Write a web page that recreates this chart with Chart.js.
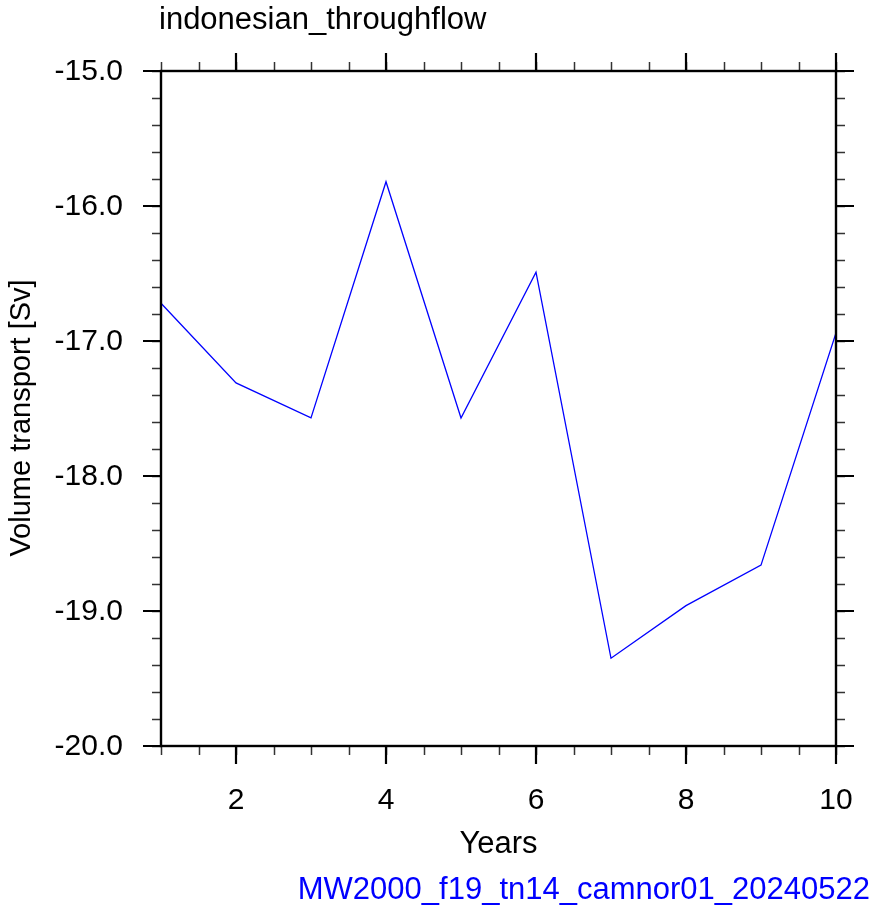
<!DOCTYPE html>
<html lang="en">
<head>
  <meta charset="UTF-8">
  <title>indonesian_throughflow</title>
  <style>
    body {
      margin: 0;
      padding: 0;
      background-color: #fff;
    }
    #wrap {
      width: 875px;
      height: 912px;
    }
  </style>
  <script src="https://cdn.jsdelivr.net/npm/chart.js"></script>
</head>
<body>
  <div id="wrap"><canvas id="itfChart" width="875" height="912"></canvas></div>

  <script>
    // data
    const years = [1, 2, 3, 4, 5, 6, 7, 8, 9, 10];
    const transport = [-16.72, -17.31, -17.57, -15.82, -17.57, -16.49, -19.35, -18.96, -18.66, -16.94];

    // axis ticks
    const xMajorTicks = [2, 4, 6, 8, 10];
    const xMinorStep = 0.5;
    const yMajorTicks = [-20, -19, -18, -17, -16, -15];
    const yMinorStep = 0.2;

    const plotTitle = 'indonesian_throughflow';
    const xTitle = 'Years';
    const yTitle = 'Volume transport [Sv]';
    const caseName = 'MW2000_f19_tn14_camnor01_20240522';

    const FAMILY = '"Liberation Sans", Arial, Helvetica, sans-serif';
    const FONT = '31px ' + FAMILY;
    const TICK_FONT = '30px ' + FAMILY;
    const YTITLE_FONT = '29px ' + FAMILY;

    // NCL style frame: outward ticks on all four sides, labels left & bottom
    const nclFrame = {
      id: 'nclFrame',
      afterDraw(chart) {
        const ctx = chart.ctx;
        const xs = chart.scales.x;
        const ys = chart.scales.y;
        const a = chart.chartArea;
        const minorLen = 9, majorLen = 18;

        ctx.save();
        ctx.lineCap = 'butt';

        // minor ticks
        ctx.strokeStyle = '#333';
        ctx.lineWidth = 1.5;
        ctx.beginPath();
        for (let v = xs.min; v <= xs.max + 1e-9; v += xMinorStep) {
          const px = Math.round(xs.getPixelForValue(v)) + 0.5;
          ctx.moveTo(px, a.bottom); ctx.lineTo(px, a.bottom + minorLen);
          ctx.moveTo(px, a.top); ctx.lineTo(px, a.top - minorLen);
        }
        for (let v = ys.min; v <= ys.max + 1e-9; v += yMinorStep) {
          const py = Math.round(ys.getPixelForValue(v)) + 0.5;
          ctx.moveTo(a.left, py); ctx.lineTo(a.left - minorLen, py);
          ctx.moveTo(a.right, py); ctx.lineTo(a.right + minorLen, py);
        }
        ctx.stroke();

        // major ticks
        ctx.strokeStyle = '#000';
        ctx.lineWidth = 2.2;
        ctx.beginPath();
        xMajorTicks.forEach(v => {
          const px = xs.getPixelForValue(v);
          ctx.moveTo(px, a.bottom); ctx.lineTo(px, a.bottom + majorLen);
          ctx.moveTo(px, a.top); ctx.lineTo(px, a.top - majorLen);
        });
        yMajorTicks.forEach(v => {
          const py = ys.getPixelForValue(v);
          ctx.moveTo(a.left, py); ctx.lineTo(a.left - majorLen, py);
          ctx.moveTo(a.right, py); ctx.lineTo(a.right + majorLen, py);
        });
        ctx.stroke();

        // frame
        ctx.lineWidth = 2.4;
        ctx.strokeRect(a.left, a.top, a.right - a.left, a.bottom - a.top);

        // tick labels
        ctx.fillStyle = '#000';
        ctx.font = TICK_FONT;
        ctx.textBaseline = 'middle';
        ctx.textAlign = 'right';
        yMajorTicks.forEach(v => {
          ctx.fillText(v.toFixed(1), a.left - 38, ys.getPixelForValue(v) + 1);
        });
        ctx.textAlign = 'center';
        ctx.textBaseline = 'alphabetic';
        xMajorTicks.forEach(v => {
          ctx.fillText(String(v), xs.getPixelForValue(v), a.bottom + 63);
        });

        // axis titles
        ctx.font = FONT;
        ctx.fillText(xTitle, (a.left + a.right) / 2, 853);
        ctx.save();
        ctx.font = YTITLE_FONT;
        ctx.translate(30, 418);
        ctx.rotate(-Math.PI / 2);
        ctx.fillText(yTitle, 0, 0);
        ctx.restore();

        // plot title, top left
        ctx.textAlign = 'left';
        ctx.fillText(plotTitle, 159, 29);

        // case name, bottom right in blue
        ctx.fillStyle = '#0000ff';
        ctx.textAlign = 'right';
        ctx.fillText(caseName, 870, 899);

        ctx.restore();
      }
    };

    new Chart(document.getElementById('itfChart'), {
      type: 'line',
      data: {
        labels: years,
        datasets: [{
          data: years.map((y, i) => ({ x: y, y: transport[i] })),
          borderColor: '#0000ff',
          borderWidth: 1.3,
          pointRadius: 0,
          tension: 0,
          fill: false
        }]
      },
      options: {
        responsive: false,
        animation: false,
        devicePixelRatio: 1,
        layout: {
          padding: { left: 161, top: 71, right: 39, bottom: 166 }
        },
        plugins: {
          legend: { display: false },
          title: { display: false },
          tooltip: { enabled: false }
        },
        scales: {
          x: { type: 'linear', min: 1, max: 10, display: false },
          y: { type: 'linear', min: -20, max: -15, display: false }
        }
      },
      plugins: [nclFrame]
    });
  </script>
</body>
</html>
